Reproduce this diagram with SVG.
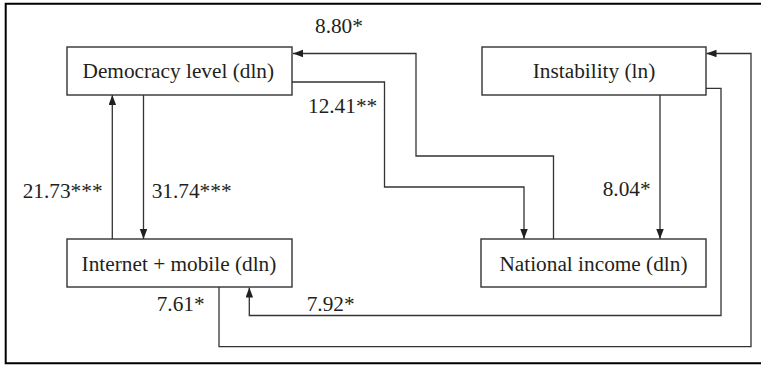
<svg xmlns="http://www.w3.org/2000/svg" width="761" height="365" viewBox="0 0 761 365">
  <style>
    .box { fill: #ffffff; stroke: #333333; stroke-width: 1.4; }
    .lbl { font-size: 21.3px; fill: #231f20; }
    .conn { fill: none; stroke: #333333; stroke-width: 1.3; }
    .frame { fill: none; stroke: #000000; stroke-width: 2; }
  </style>
  <defs>
    <marker id="arrow" markerUnits="userSpaceOnUse" markerWidth="10" markerHeight="8" refX="10" refY="3.75" orient="auto">
      <path d="M0,0 L10,3.75 L0,7.5 z" fill="#231f20"/>
    </marker>
  </defs>
  <rect x="0" y="0" width="761" height="365" fill="#ffffff"/>
  <path class="frame" d="M761,3.7 H5.7 V363.3 H761"/>

  <g font-family="'Liberation Serif', 'DejaVu Serif', serif">
  <g id="connectors">
    <path class="conn" d="M112.3,239 V95" marker-end="url(#arrow)"/>
    <path class="conn" d="M143.5,95 V239" marker-end="url(#arrow)"/>
    <path class="conn" d="M292,82 H384.5 V187 H524 V239" marker-end="url(#arrow)"/>
    <path class="conn" d="M553.5,239 V156 H416 V53.5 H293" marker-end="url(#arrow)"/>
    <path class="conn" d="M660,95 V239" marker-end="url(#arrow)"/>
    <path class="conn" d="M706,88.3 H721 V315.5 H249.3 V287.5" marker-end="url(#arrow)"/>
    <path class="conn" d="M219,287 V346.7 H751 V53.5 H706.5" marker-end="url(#arrow)"/>
    <text class="lbl" x="315" y="33">8.80*</text>
    <text class="lbl" x="308" y="113">12.41**</text>
    <text class="lbl" x="22.7" y="198">21.73***</text>
    <text class="lbl" x="151.7" y="198">31.74***</text>
    <text class="lbl" x="602.7" y="196">8.04*</text>
    <text class="lbl" x="156.7" y="310.5">7.61*</text>
    <text class="lbl" x="306.7" y="310.5">7.92*</text>
  </g>

  <g id="democracy">
    <rect class="box" x="67" y="47" width="225" height="48"/>
    <text class="lbl" x="178.3" y="78.3" text-anchor="middle">Democracy level (dln)</text>
  </g>
  <g id="instability">
    <rect class="box" x="482" y="47" width="224" height="48"/>
    <text class="lbl" x="594" y="78.3" text-anchor="middle">Instability (ln)</text>
  </g>
  <g id="internet">
    <rect class="box" x="67" y="239" width="225" height="48"/>
    <text class="lbl" x="179" y="270.7" text-anchor="middle">Internet + mobile (dln)</text>
  </g>
  <g id="national">
    <rect class="box" x="481" y="239" width="225" height="48"/>
    <text class="lbl" x="593.5" y="270.7" text-anchor="middle">National income (dln)</text>
  </g>
  </g>
</svg>
